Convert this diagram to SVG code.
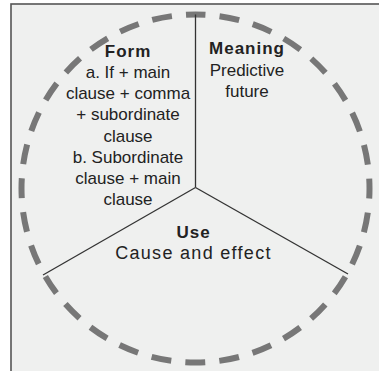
<svg xmlns="http://www.w3.org/2000/svg" width="379" height="371" viewBox="0 0 379 371">
<style>
text{font-family:"Liberation Sans",Arial,sans-serif;fill:#222;text-anchor:middle}
.b{font-weight:bold;font-size:17px;letter-spacing:1px}
.t{font-size:17px}
.line{stroke:#333;stroke-width:1.3;fill:none}
</style>
<rect x="0" y="0" width="379" height="371" fill="#fff"/>
<rect x="11" y="4" width="372" height="372" fill="#eff0ef" stroke="#555" stroke-width="1.6"/>
<g id="ring">
<circle cx="195.5" cy="188.5" r="174" fill="none" stroke="#777" stroke-width="6" stroke-dasharray="20 14.1646" stroke-dashoffset="10" transform="rotate(-90 195.5 188.5)"/>
</g>
<g id="connectors">
<line class="line" x1="195.5" y1="14.5" x2="195.5" y2="187.5"/>
<line class="line" x1="195.5" y1="187.5" x2="43" y2="275"/>
<line class="line" x1="195.5" y1="187.5" x2="348" y2="274"/>
</g>
<g id="form">
<text class="b" x="128" y="57">Form</text>
<text class="t" x="128" y="78">a. If + main</text>
<text class="t" x="128" y="99">clause + comma</text>
<text class="t" x="128" y="120">+ subordinate</text>
<text class="t" x="128" y="142">clause</text>
<text class="t" x="128" y="163">b. Subordinate</text>
<text class="t" x="128" y="184">clause + main</text>
<text class="t" x="128" y="205">clause</text>
</g>
<g id="meaning">
<text class="b" x="247" y="54">Meaning</text>
<text class="t" x="247" y="76">Predictive</text>
<text class="t" x="247" y="97">future</text>
</g>
<g id="use">
<text class="b" x="193.5" y="238">Use</text>
<text class="t" x="193.5" y="259" style="font-size:18px;letter-spacing:1.3px">Cause and effect</text>
</g>
</svg>
